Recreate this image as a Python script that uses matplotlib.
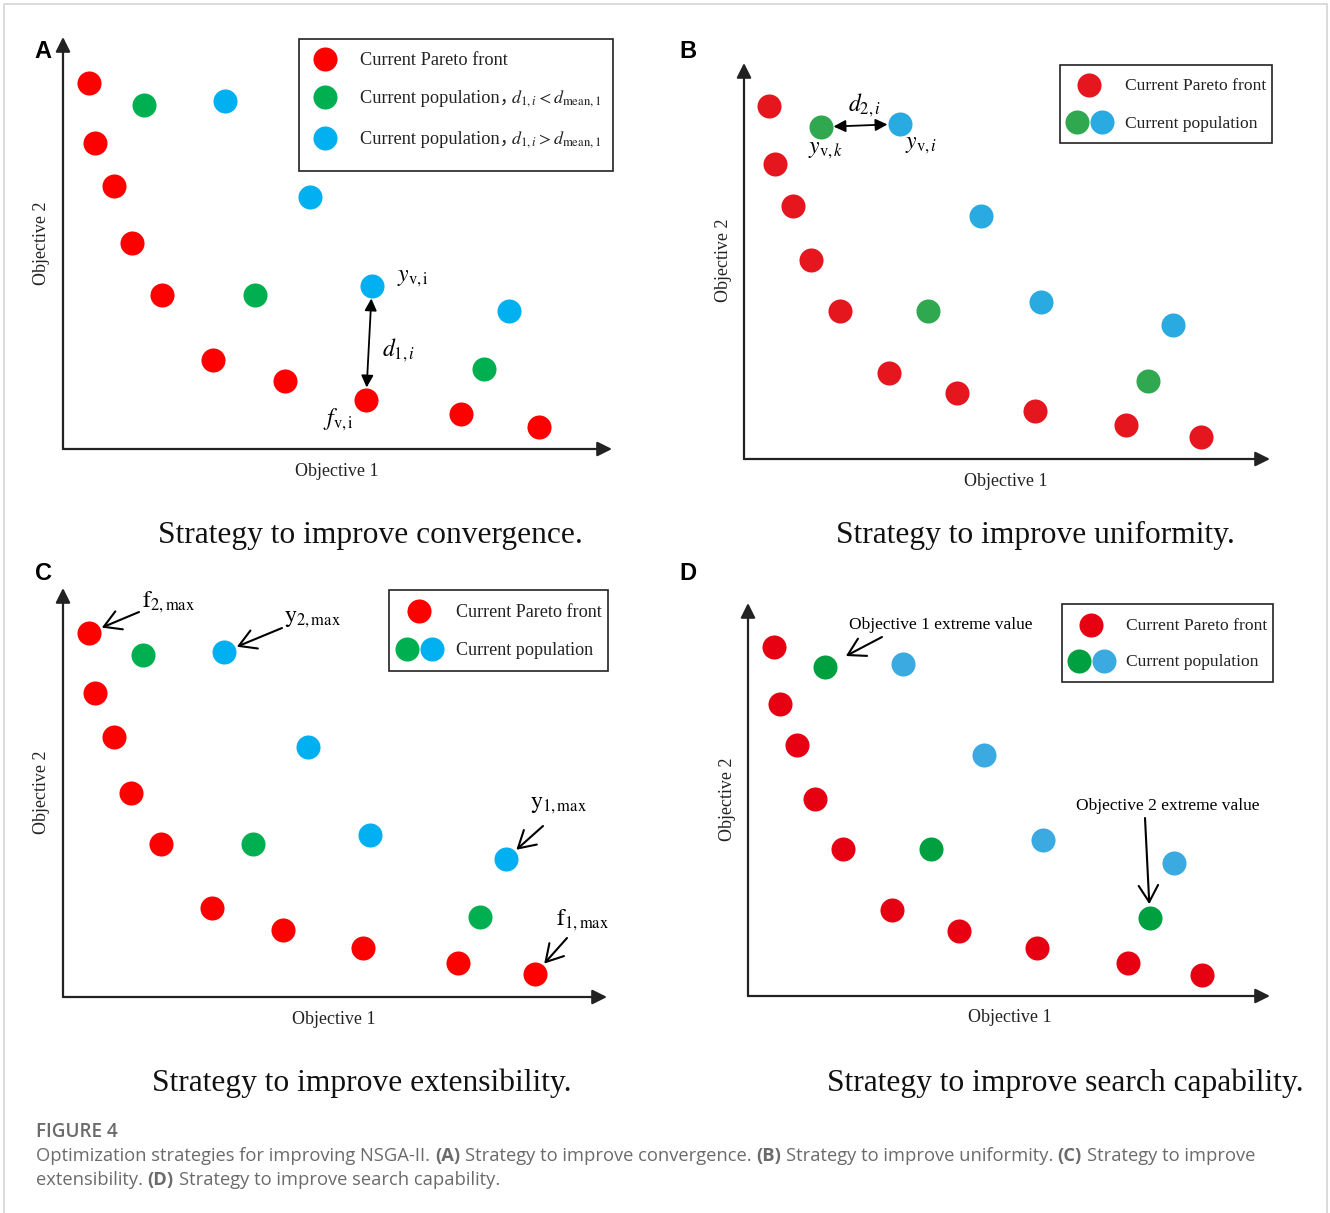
import matplotlib
matplotlib.use('Agg')
import matplotlib.pyplot as plt
from matplotlib.patches import Rectangle

plt.rcParams['font.family'] = ['Liberation Serif', 'Noto Sans CJK SC', 'DejaVu Sans']
plt.rcParams['mathtext.fontset'] = 'stix'

W, H = 1330, 1213

# ---- data (objective values, one unit = 10 px of the original figure)
# A: convergence
a_front_x = [2.6, 3.2, 5.1, 6.9, 9.9, 15.0, 22.2, 30.3, 39.8, 47.6]
a_front_y = [36.6, 30.6, 26.3, 20.6, 15.4, 8.9, 6.8, 4.9, 3.5, 2.2]
a_near_x = [8.1, 19.2, 42.1]
a_near_y = [34.4, 15.4, 8.0]
a_far_x = [16.2, 24.7, 30.9, 44.6]
a_far_y = [34.8, 25.2, 16.3, 13.8]
# B: uniformity
b_front_x = [2.5, 3.1, 4.9, 6.7, 9.6, 14.5, 21.3, 29.1, 38.2, 45.7]
b_front_y = [35.3, 29.5, 25.3, 19.9, 14.8, 8.6, 6.6, 4.8, 3.4, 2.2]
b_green_x = [7.7, 18.4, 40.4]
b_green_y = [33.2, 14.8, 7.8]
b_blue_x = [15.6, 23.7, 29.7, 42.9]
b_blue_y = [33.5, 24.3, 15.7, 13.4]
# C: extensibility
c_front_x = [2.6, 3.2, 5.1, 6.8, 9.8, 14.9, 22.0, 30.0, 39.5, 47.2]
c_front_y = [36.4, 30.4, 26.0, 20.4, 15.3, 8.9, 6.7, 4.9, 3.4, 2.3]
c_green_x = [8.0, 19.0, 41.7]
c_green_y = [34.2, 15.3, 8.0]
c_blue_x = [16.1, 24.5, 30.7, 44.3]
c_blue_y = [34.5, 25.0, 16.2, 13.8]
# D: search capability
d_front_x = [2.6, 3.2, 4.9, 6.7, 9.5, 14.4, 21.1, 28.9, 38.0, 45.4]
d_front_y = [34.9, 29.2, 25.1, 19.7, 14.7, 8.6, 6.5, 4.8, 3.3, 2.1]
d_green_x = [7.7, 18.3, 40.2]
d_green_y = [32.9, 14.7, 7.8]
d_blue_x = [15.5, 23.6, 29.5, 42.6]
d_blue_y = [33.2, 24.1, 15.6, 13.3]

titles = ['Strategy to improve convergence.', 'Strategy to improve uniformity.',
          'Strategy to improve extensibility.', 'Strategy to improve search capability.']

fig = plt.figure(figsize=(13.3, 12.13), dpi=100)
ov = fig.add_axes([0, 0, 1, 1])
ov.set_xlim(0, W)
ov.set_ylim(H, 0)
ov.axis('off')
ov.add_patch(Rectangle((4, 4), 1323, 1230, fill=False, edgecolor='#d4d4d4', lw=1.2))
renderer = fig.canvas.get_renderer()

S = 300


def width(txt, **kw):
    t = ov.text(0, 0, txt, **kw)
    w = t.get_window_extent(renderer=renderer).width
    t.remove()
    return w


def panel(x0, y0, x1, y1):
    ax = fig.add_axes([x0 / W, 1 - y0 / H, (x1 - x0) / W, (y0 - y1) / H])
    ax.set_xlim(0, (x1 - x0) / 10)
    ax.set_ylim(0, (y0 - y1) / 10)
    ax.axis('off')
    for end in [(1, 0), (0, 1)]:
        ax.annotate('', xy=end, xytext=(0, 0), xycoords='axes fraction',
                    arrowprops=dict(arrowstyle='-|>', color='#222222', lw=1.6,
                                    mutation_scale=22, shrinkA=0, shrinkB=0))
    return ax


def dots(ax, x, y, color):
    ax.scatter(x, y, s=S, c=color, linewidths=0, clip_on=False, zorder=3)


def pointer(ax, tail, head, shrink):
    ax.annotate('', xy=head, xytext=tail,
                arrowprops=dict(arrowstyle='->, head_length=0.6, head_width=0.35', color='black',
                                lw=1.5, mutation_scale=20, shrinkA=0, shrinkB=shrink))


def legend_box(x0, y0, x1, y1, rows, fs=13):
    ov.add_patch(Rectangle((x0, y0), x1 - x0, y1 - y0, fill=False, edgecolor='#222222', lw=1.2))
    for cx, cy, colors, tx, label, extra in rows:
        for i, col in enumerate(colors):
            ov.scatter(cx + 25 * i, cy, s=S, c=col, linewidths=0, zorder=3)
        ov.text(tx, cy + 1.5, label, fontsize=fs, ha='left', va='center', color='#222222')
        if extra:
            ov.text(511, cy + 2, extra, fontsize=13, ha='left', va='center', color='#222222')


# ---------------- A
RA, GA, BA = '#FF0000', '#00B050', '#00B0F0'
ax = panel(63, 449, 612, 37)
dots(ax, a_front_x, a_front_y, RA)
dots(ax, a_near_x, a_near_y, GA)
dots(ax, a_far_x, a_far_y, BA)
ax.annotate('', xy=(a_far_x[2], a_far_y[2]), xytext=(a_front_x[7], a_front_y[7]),
            arrowprops=dict(arrowstyle='<|-|>', color='black', lw=1.3, mutation_scale=18,
                            shrinkA=9, shrinkB=9))
ax.text(33.4, 17.1, r'$y_{\mathrm{v,i}}$', fontsize=17, va='center')
ax.text(31.9, 9.9, r'$d_{1,i}$', fontsize=17, va='center')
ax.text(26.0, 2.9, r'$f_{\mathrm{v,i}}$', fontsize=17, va='center')
legend_box(299, 39, 613, 171, [
    (325, 59, [RA], 360, 'Current Pareto front', None),
    (325, 97, [GA], 360, 'Current population，', r'$d_{1,i} < d_{\mathrm{mean},1}$'),
    (325, 138, [BA], 360, 'Current population，', r'$d_{1,i} > d_{\mathrm{mean},1}$'),
], fs=13.2)

# ---------------- B
RB, GB, BB = '#E6161E', '#2FA84F', '#29ABE2'
ax = panel(744, 459, 1270, 63)
dots(ax, b_front_x, b_front_y, RB)
dots(ax, b_green_x, b_green_y, GB)
dots(ax, b_blue_x, b_blue_y, BB)
ax.annotate('', xy=(b_blue_x[0], b_blue_y[0]), xytext=(b_green_x[0], b_green_y[0]),
            arrowprops=dict(arrowstyle='<|-|>', color='black', lw=1.3, mutation_scale=18,
                            shrinkA=9, shrinkB=9))
ax.text(10.4, 35.4, r'$d_{2,i}$', fontsize=17, va='center')
ax.text(6.4, 30.9, r'$y_{\mathrm{v},k}$', fontsize=17, va='center')
ax.text(16.1, 31.4, r'$y_{\mathrm{v},i}$', fontsize=17, va='center')
legend_box(1060, 65, 1272, 143, [
    (1089, 85, [RB], 1125, 'Current Pareto front', None),
    (1077, 122, [GB, BB], 1125, 'Current population', None),
], fs=12.6)

# ---------------- C
RC, GC, BC = '#FF0000', '#00B050', '#00B0F0'
ax = panel(63, 997, 607, 588)
dots(ax, c_front_x, c_front_y, RC)
dots(ax, c_green_x, c_green_y, GC)
dots(ax, c_blue_x, c_blue_y, BC)
ax.text(7.9, 39.5, r'$\mathrm{f}_{2,\mathrm{max}}$', fontsize=17, va='center')
pointer(ax, (7.6, 38.5), (c_front_x[0], c_front_y[0]), 10)
ax.text(22.1, 37.7, r'$\mathrm{y}_{2,\mathrm{max}}$', fontsize=17, va='center')
pointer(ax, (21.9, 36.9), (c_blue_x[0], c_blue_y[0]), 10)
ax.text(46.7, 19.2, r'$\mathrm{y}_{1,\mathrm{max}}$', fontsize=17, va='center')
pointer(ax, (48.0, 17.1), (c_blue_x[3], c_blue_y[3]), 10)
ax.text(49.3, 7.7, r'$\mathrm{f}_{1,\mathrm{max}}$', fontsize=17, va='center')
pointer(ax, (50.4, 5.9), (c_front_x[9], c_front_y[9]), 10)
legend_box(389, 590, 608, 671, [
    (419, 611, [RC], 456, 'Current Pareto front', None),
    (407, 649, [GC, BC], 456, 'Current population', None),
], fs=13.1)

# ---------------- D
RD, GD, BD = '#E60012', '#00A040', '#3AAAE0'
ax = panel(748, 996, 1270, 603)
dots(ax, d_front_x, d_front_y, RD)
dots(ax, d_green_x, d_green_y, GD)
dots(ax, d_blue_x, d_blue_y, BD)
ax.text(10.1, 37.1, 'Objective 1 extreme value', fontsize=12.5, va='center')
pointer(ax, (13.4, 35.9), (d_green_x[0], d_green_y[0]), 17)
ax.text(42.0, 19.0, 'Objective 2 extreme value', fontsize=12.5, va='center', ha='center')
pointer(ax, (39.7, 17.8), (d_green_x[2], d_green_y[2]), 10)
legend_box(1062, 604, 1273, 682, [
    (1091, 625, [RD], 1126, 'Current Pareto front', None),
    (1079, 661, [GD, BD], 1126, 'Current population', None),
], fs=12.6)

# ---------------- axis labels, titles, panel letters
for x, y in [(337, 472), (1006, 481), (334, 1020), (1010, 1018)]:
    ov.text(x, y, 'Objective 1', fontsize=13, ha='center', va='center', color='#222222')
for x, y in [(42, 243), (723, 260), (42, 792), (727, 799)]:
    ov.text(x, y, 'Objective 2', fontsize=13, ha='center', va='center', rotation=90, color='#222222')
for (x, y), t in zip([(370, 535), (1035, 535), (362, 1083), (1065, 1083)], titles):
    ov.text(x, y, t, fontsize=22.7, ha='center', va='center', color='#111111')
for (x, y), t in zip([(43, 52), (688, 52), (43, 573), (688, 573)], 'ABCD'):
    ov.text(x, y, t, fontsize=17, fontweight='bold', family='Liberation Sans',
            ha='center', va='center', color='black')

# ---------------- caption
CAP = '#6b6b6b'
ov.text(36, 1132, 'FIGURE 4', fontsize=13.6, family='Open Sans', fontweight='semibold',
        color=CAP, ha='left', va='center')


def rich_line(x, y, parts):
    base = dict(fontsize=13.2, family='Open Sans', color=CAP)
    gap = width('x x', **base) - width('xx', **base)
    for txt, bold in parts:
        kw = dict(base, fontweight='bold' if bold else 'normal')
        t = ov.text(x, y, txt, ha='left', va='center', **kw)
        x += t.get_window_extent(renderer=renderer).width + gap


rich_line(36, 1156, [('Optimization strategies for improving NSGA-II.', False), ('(A)', True),
                     ('Strategy to improve convergence.', False), ('(B)', True),
                     ('Strategy to improve uniformity.', False), ('(C)', True),
                     ('Strategy to improve', False)])
rich_line(36, 1180, [('extensibility.', False), ('(D)', True),
                     ('Strategy to improve search capability.', False)])

fig.savefig('out.png', dpi=100)
